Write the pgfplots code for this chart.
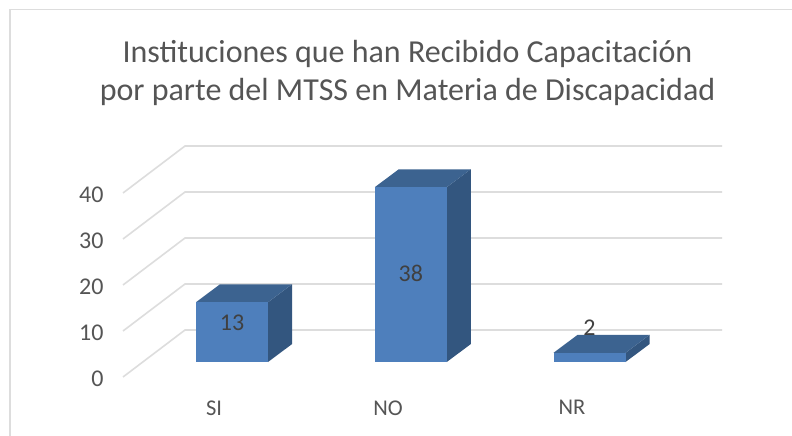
\documentclass[border=0pt]{standalone}
\usepackage{pgfplots}
\pgfplotsset{compat=1.18}
\usepackage{fontspec}
\setmainfont{Carlito}
\definecolor{barfront}{HTML}{4E7FBC}
\definecolor{bartop}{HTML}{3C6390}
\definecolor{barside}{HTML}{33567F}
\definecolor{gridc}{HTML}{DDDDDD}
\definecolor{txt}{HTML}{555555}
\definecolor{barlab}{HTML}{404040}
\begin{document}
\begin{tikzpicture}[x=1pt,y=1pt]
\useasboundingbox (0,0) rectangle (792,436);
\fill[white] (0,0) rectangle (792,436);
\draw[gridc,line width=1.6pt] (10,-2) -- (10,426.5) -- (794,426.5);
\node[txt,font=\fontsize{32}{38}\selectfont,align=center] at (407.5,363) {Instituciones que han Recibido Capacitación\\por parte del MTSS en Materia de Discapacidad};
% axis A: walls and gridlines, front plane of the floor
\begin{axis}[
  at={(123pt,59pt)},anchor=south west,scale only axis,
  width=599pt,height=184pt,
  xmin=-0.6098,xmax=2.741,ymin=0,ymax=40,
  clip=false,axis line style={draw=none},
  major tick length=0pt,
  ytick={0,10,20,30,40},
  xtick={-0.10,0.873,1.902},
  xticklabels={SI,NO,NR},
  x tick label style={text=txt,font=\fontsize{22.5}{24}\selectfont,yshift=-20pt},
  y tick label style={text=txt,font=\fontsize{24}{24}\selectfont,xshift=-16pt,yshift=-2pt},
  /pgf/number format/assume math mode=true,
]
% wall lines: front corner, back corner, far right
\addplot[gridc,line width=1.6pt] coordinates {(-0.6098,0) (-0.2629,10.22) (2.741,10.22)};
\addplot[gridc,line width=1.6pt] coordinates {(-0.6098,10) (-0.2629,20.22) (2.741,20.22)};
\addplot[gridc,line width=1.6pt] coordinates {(-0.6098,20) (-0.2629,30.22) (2.741,30.22)};
\addplot[gridc,line width=1.6pt] coordinates {(-0.6098,30) (-0.2629,40.22) (2.741,40.22)};
\addplot[gridc,line width=1.6pt] coordinates {(-0.6098,40) (-0.2629,50.22) (2.741,50.22)};
\end{axis}
% axis B: bars, same box, value 0 raised to the floor line of the bars
\begin{axis}[
  at={(123pt,59pt)},anchor=south west,scale only axis,
  width=599pt,height=184pt,
  xmin=-0.6098,xmax=2.741,ymin=-3.26,ymax=36.74,
  clip=false,hide axis,
]
% SI = 13
\addplot[fill=barside,draw=none] coordinates {(0.2014,0) (0.3357,3.9) (0.3357,16.9) (0.2014,13)} -- cycle;
\addplot[fill=bartop,draw=none] coordinates {(-0.2014,13) (0.2014,13) (0.3357,16.9) (-0.0671,16.9)} -- cycle;
\addplot[fill=barfront,draw=none] coordinates {(-0.2014,0) (0.2014,0) (0.2014,13) (-0.2014,13)} -- cycle;
% NO = 38
\addplot[fill=barside,draw=none] coordinates {(1.2014,0) (1.3357,3.9) (1.3357,41.9) (1.2014,38)} -- cycle;
\addplot[fill=bartop,draw=none] coordinates {(0.7986,38) (1.2014,38) (1.3357,41.9) (0.9329,41.9)} -- cycle;
\addplot[fill=barfront,draw=none] coordinates {(0.7986,0) (1.2014,0) (1.2014,38) (0.7986,38)} -- cycle;
% NR = 2
\addplot[fill=barside,draw=none] coordinates {(2.2014,0) (2.3357,3.9) (2.3357,5.9) (2.2014,2)} -- cycle;
\addplot[fill=bartop,draw=none] coordinates {(1.7986,2) (2.2014,2) (2.3357,5.9) (1.9329,5.9)} -- cycle;
\addplot[fill=barfront,draw=none] coordinates {(1.7986,0) (2.2014,0) (2.2014,2) (1.7986,2)} -- cycle;
% data labels
\addplot[only marks,mark=none,nodes near coords,point meta=explicit symbolic,
  nodes near coords style={text=barlab,font=\fontsize{24}{24}\selectfont,anchor=center}]
  table[meta=l] {
x y l
0.0 8.5 13
1.0 19.2 38
2.0 7.4 2
};
\end{axis}
\end{tikzpicture}
\end{document}
